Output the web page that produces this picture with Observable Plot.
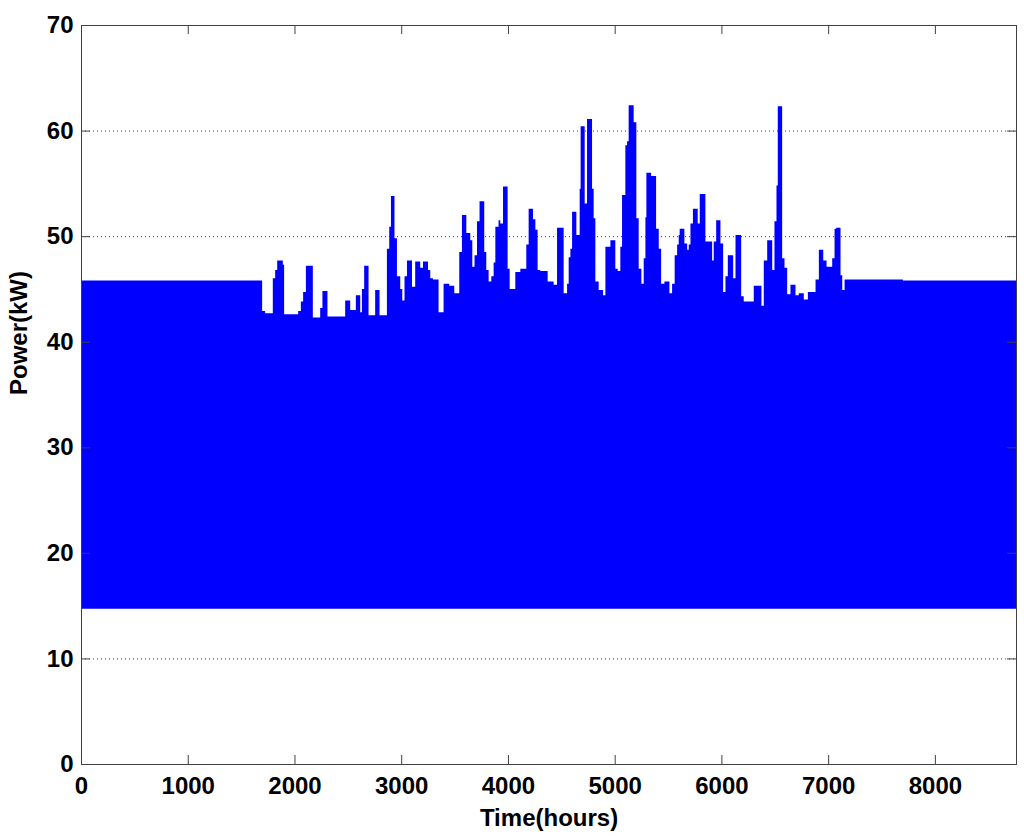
<!DOCTYPE html>
<html>
<head>
<meta charset="utf-8">
<script src="https://cdn.jsdelivr.net/npm/d3@7"></script>
<script src="https://cdn.jsdelivr.net/npm/@observablehq/plot@0.6"></script>
<style>
  html, body { margin: 0; padding: 0; background: #fff; }
  #chart { width: 1024px; height: 836px; }
</style>
</head>
<body>
<div id="chart"></div>
<script>
// Upper envelope of the hourly power signal (step start hour, kW)
const hours = [0, 1697, 1725, 1797, 1819, 1838, 1891, 1903, 2035, 2060,
  2081, 2107, 2172, 2241, 2262, 2309, 2475, 2522, 2575, 2616,
  2632, 2653, 2694, 2756, 2797, 2866, 2888, 2904, 2937, 2960,
  2991, 3010, 3031, 3054, 3101, 3131, 3178, 3204, 3251, 3272,
  3297, 3350, 3397, 3450, 3497, 3544, 3569, 3610, 3647, 3666,
  3687, 3710, 3734, 3778, 3797, 3819, 3844, 3866, 3882, 3912,
  3928, 3954, 3997, 4016, 4069, 4116, 4172, 4194, 4235, 4257,
  4278, 4303, 4372, 4428, 4460, 4522, 4554, 4569, 4585, 4601,
  4641, 4672, 4681, 4719, 4741, 4788, 4803, 4819, 4850, 4891,
  4913, 4960, 5006, 5028, 5053, 5069, 5100, 5116, 5131, 5178,
  5203, 5225, 5250, 5272, 5288, 5297, 5341, 5388, 5413, 5435,
  5466, 5513, 5538, 5562, 5585, 5600, 5609, 5653, 5679, 5694,
  5710, 5733, 5778, 5797, 5850, 5913, 5928, 5951, 5991, 6016,
  6038, 6060, 6110, 6132, 6185, 6209, 6303, 6375, 6397, 6429,
  6476, 6497, 6516, 6528, 6569, 6591, 6616, 6647, 6694, 6725,
  6772, 6810, 6882, 6913, 6954, 6985, 7038, 7060, 7076, 7116,
  7132, 7154, 7700, 8760];
const upperKW = [45.8, 42.9, 42.7, 46.0, 46.8, 47.7, 47.3, 42.6, 42.9, 43.8,
  44.7, 47.2, 42.3, 43.2, 44.8, 42.4, 43.9, 43.0, 44.4, 42.8,
  45.0, 47.2, 42.5, 44.9, 42.5, 48.8, 50.9, 53.8, 49.8, 46.2,
  45.0, 43.9, 46.2, 47.7, 45.2, 47.6, 47.0, 47.6, 46.8, 46.0,
  45.9, 42.8, 45.5, 45.3, 44.6, 48.5, 52.0, 50.3, 49.6, 47.1,
  48.2, 51.4, 53.3, 48.5, 46.8, 45.7, 46.2, 47.5, 50.9, 51.5,
  51.2, 54.7, 46.9, 45.0, 46.6, 46.9, 49.2, 52.6, 51.6, 50.6,
  46.8, 46.7, 45.7, 45.4, 50.8, 44.6, 45.5, 48.0, 48.8, 52.3,
  50.1, 54.5, 60.4, 53.1, 61.1, 54.5, 51.7, 45.7, 44.9, 44.4,
  49.0, 49.6, 46.9, 46.7, 49.0, 53.9, 58.6, 59.0, 62.4, 60.8,
  51.7, 46.9, 45.5, 47.9, 51.8, 56.0, 55.7, 50.7, 48.8, 45.5,
  45.7, 44.6, 45.5, 48.2, 49.2, 50.1, 50.7, 49.3, 48.7, 49.2,
  51.2, 52.6, 51.2, 54.0, 49.5, 47.7, 49.5, 51.5, 49.3, 44.7,
  46.2, 48.2, 46.0, 50.1, 44.3, 43.8, 45.3, 43.4, 47.7, 49.6,
  46.8, 51.4, 54.8, 62.3, 47.9, 47.0, 44.5, 45.4, 44.4, 44.6,
  44.0, 44.7, 45.9, 48.7, 47.7, 47.1, 47.9, 50.7, 50.8, 46.3,
  44.9, 45.9, 45.8, 45.8];
// Lower envelope (kW), nearly constant over the year
const lowerKW = 14.7;

const xTicks = [0, 1000, 2000, 3000, 4000, 5000, 6000, 7000, 8000];
const yTicks = [0, 10, 20, 30, 40, 50, 60, 70];
const gridY = [10, 20, 30, 40, 50, 60];

const rows = hours.map((h, i) => ({hour: h, upper: upperKW[i], lower: lowerKW}));

const W = 1024, H = 836;
const mL = 81, mR = 8, mT = 25, mB = 72;
const innerW = W - mL - mR, innerH = H - mT - mB;
const tick = 9;
const axisColor = "#404040";

const chart = Plot.plot({
  width: W,
  height: H,
  marginLeft: mL,
  marginRight: mR,
  marginTop: mT,
  marginBottom: mB,
  style: {fontFamily: "'Liberation Sans', Arial, Helvetica, sans-serif", fontSize: "24px", fontWeight: "bold", color: "#000", background: "#fff"},
  x: {domain: [0, 8760], label: null},
  y: {domain: [0, 70], label: null},
  marks: [
    Plot.ruleY(gridY, {stroke: "#444", strokeWidth: 1, strokeDasharray: "1,3"}),
    Plot.areaY(rows, {x: "hour", y1: "lower", y2: "upper", curve: "step-after", fill: "#0000ff"}),
    Plot.frame({stroke: axisColor, strokeWidth: 1}),
    // inward ticks: bottom, top, left, right
    Plot.tickX(xTicks, {x: d => d, insetTop: innerH - tick, stroke: axisColor}),
    Plot.tickX(xTicks, {x: d => d, insetBottom: innerH - tick, stroke: axisColor}),
    Plot.tickY(yTicks, {y: d => d, insetRight: innerW - tick, stroke: axisColor}),
    Plot.tickY(yTicks, {y: d => d, insetLeft: innerW - tick, stroke: axisColor}),
    Plot.axisX(xTicks, {tickSize: 0, tickPadding: 12, tickFormat: d => String(d), fontSize: 24, fontWeight: "bold", label: null}),
    Plot.axisY(yTicks, {tickSize: 0, tickPadding: 8, tickFormat: d => String(d), fontSize: 24, fontWeight: "bold", label: null}),
    Plot.text(["Time(hours)"], {frameAnchor: "bottom", lineAnchor: "bottom", dy: 61, text: d => d, fontSize: 24, fontWeight: "bold", fill: "#000"}),
    Plot.text(["Power(kW)"], {frameAnchor: "left", lineAnchor: "bottom", rotate: -90, dx: -55, text: d => d, fontSize: 24, fontWeight: "bold", fill: "#000"})
  ]
});
document.getElementById("chart").appendChild(chart);
</script>
</body>
</html>
